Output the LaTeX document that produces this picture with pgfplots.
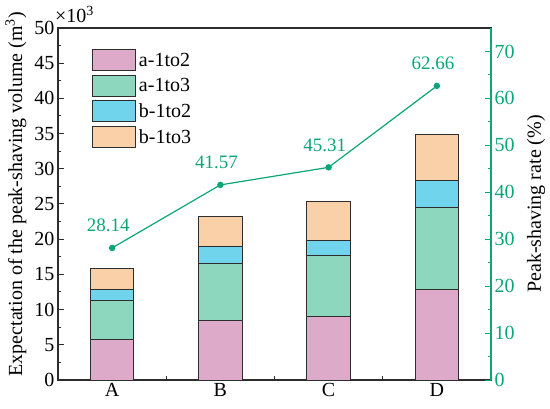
\documentclass[border=0pt]{standalone}
\usepackage{fontspec}
\setmainfont{Liberation Serif}
\setsansfont{Liberation Serif}
\usepackage{pgfplots}
\pgfplotsset{compat=1.18}
\definecolor{cpink}{RGB}{222,170,202}
\definecolor{cgreen}{RGB}{140,215,190}
\definecolor{cblue}{RGB}{112,212,236}
\definecolor{corange}{RGB}{250,208,168}
\definecolor{lgreen}{RGB}{10,166,120}
\definecolor{axgray}{RGB}{45,45,45}
\newcommand{\fnt}{\rmfamily\fontsize{20bp}{24bp}\selectfont}
\newcommand{\fntb}{\rmfamily\fontsize{19bp}{23bp}\selectfont}
\begin{document}
\begin{tikzpicture}[font=\fnt]
\begin{axis}[
  scale only axis, width=433bp, height=352bp,
  xmin=0.5, xmax=4.5, ymin=0, ymax=50,
  ybar stacked, bar width=0.4,
  xtick={1,2,3,4}, xticklabels={A,B,C,D},
  minor xtick={1.5,2.5,3.5},
  ytick={0,5,...,50}, minor ytick={2.5,7.5,...,47.5},
  xtick pos=bottom, ytick pos=left, tick align=inside,
  major tick length=6bp, minor tick length=3.5bp,
  axis line style={axgray, line width=1.2bp},
  every tick/.style={axgray, line width=1bp},
  tick label style={font=\fnt},
  label style={font=\fnt},
  /pgf/number format/assume math mode=true,
  ylabel={Expectation of the peak-shaving volume (m\textsuperscript{3})},
  every axis y label/.style={at={(rel axis cs:-0.097,0.528)}, anchor=center, rotate=90},
  legend style={at={(rel axis cs:0.078,0.94)}, anchor=north west, draw=none, fill=none,
    inner sep=0pt, row sep=3.5bp, font=\fnt, nodes={inner sep=3bp, anchor=west}},
  legend cell align=left,
  legend image code/.code={\draw[#1, draw=axgray, line width=1bp] (0bp,-10.5bp) rectangle (43bp,10.5bp);},
]
\addplot[fill=cpink, draw=axgray, line width=1bp] coordinates {(1,5.8) (2,8.45) (3,9.0) (4,12.85)};
\addplot[fill=cgreen, draw=axgray, line width=1bp] coordinates {(1,5.43) (2,8.15) (3,8.7) (4,11.7)};
\addplot[fill=cblue, draw=axgray, line width=1bp] coordinates {(1,1.57) (2,2.3) (3,2.1) (4,3.75)};
\addplot[fill=corange, draw=axgray, line width=1bp] coordinates {(1,2.97) (2,4.3) (3,5.5) (4,6.6)};
\legend{a-1to2, a-1to3, b-1to2, b-1to3}
\coordinate (sw) at (rel axis cs:0,0);
\coordinate (ne) at (rel axis cs:1,1);
\coordinate (nw) at (rel axis cs:0,1);
\end{axis}
\begin{axis}[
  scale only axis, width=433bp, height=352bp,
  xmin=0.5, xmax=4.5, ymin=0, ymax=75,
  axis x line=none, axis y line*=right,
  ytick={0,10,...,70}, minor ytick={5,15,...,65},
  tick align=inside, major tick length=6bp, minor tick length=3.5bp,
  y axis line style={lgreen, line width=1.2bp},
  every tick/.style={lgreen, line width=1bp},
  yticklabel style={text=lgreen, font=\fnt},
  label style={font=\fnt},
  /pgf/number format/assume math mode=true,
  ylabel={Peak-shaving rate (\%)},
  every axis y label/.style={at={(rel axis cs:1.104,0.5)}, anchor=center, rotate=90},
]
\addplot[lgreen, line width=1.2bp, mark=*, mark size=2.6bp,
  nodes near coords, point meta=explicit symbolic,
  nodes near coords style={text=lgreen, font=\fntb, yshift=12bp, xshift=-4bp}]
  coordinates {(1,28.14)[28.14] (2,41.57)[41.57] (3,45.31)[45.31] (4,62.66)[62.66]};
\end{axis}
\node[anchor=base west, inner sep=0pt] at ([xshift=-3bp, yshift=5bp]nw) {×10\textsuperscript{3}};
\pgfresetboundingbox
\path ([shift={(-58bp,-29bp)}]sw) rectangle ([shift={(59bp,28bp)}]ne);
\end{tikzpicture}
\end{document}
